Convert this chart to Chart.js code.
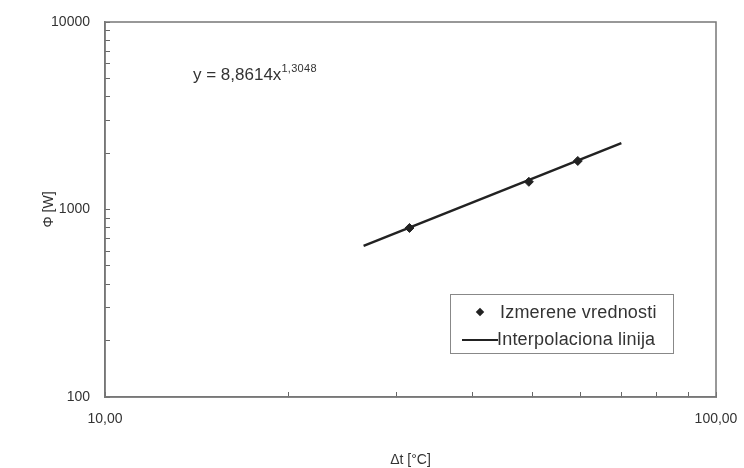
<!DOCTYPE html>
<html>
<head>
<meta charset="utf-8">
<script src="https://cdn.jsdelivr.net/npm/chart.js@4"></script>
<style>
  body { margin: 0; background: #fff; }
  #wrap { position: relative; width: 744px; height: 468px; }
  #c { display: block; }
  .eq { position: absolute; left: 193px; top: 63px; font: 17px "Liberation Sans", Arial, sans-serif; color: #333; white-space: nowrap; }
  .eq sup { font-size: 11px; position: relative; top: -1px; letter-spacing: 0.3px; }
  .legend { position: absolute; left: 450px; top: 294px; width: 222px; height: 58px; border: 1px solid #888; font: 18px "Liberation Sans", Arial, sans-serif; letter-spacing: 0.2px; color: #333; }
  .row { position: absolute; left: 0; height: 20px; line-height: 20px; white-space: nowrap; }
  .dia { position: absolute; left: 26px; top: 7px; width: 6px; height: 6px; background: #222; transform: rotate(45deg); }
  .ln { position: absolute; left: 11px; top: 10px; width: 36px; height: 2px; background: #222; }
</style>
</head>
<body>
<div id="wrap">
  <canvas id="c" width="744" height="468"></canvas>
  <div class="eq">y = 8,8614x<sup>1,3048</sup></div>
  <div class="legend">
    <div class="row" style="top:7px"><span class="dia"></span><span style="margin-left:49px">Izmerene vrednosti</span></div>
    <div class="row" style="top:34px"><span class="ln"></span><span style="margin-left:46px">Interpolaciona linija</span></div>
  </div>
</div>
<script>
// measured points (delta t, heat output)
const dt = [31.5, 49.4, 59.4];
const phi = [797, 1405, 1815];
// interpolation line endpoints
const lineX = [26.5, 70];
const lineY = [640, 2260];

// tick positions and labelled values
const xTicks = [10, 20, 30, 40, 50, 60, 70, 80, 90, 100];
const yTicks = [100, 200, 300, 400, 500, 600, 700, 800, 900,
                1000, 2000, 3000, 4000, 5000, 6000, 7000, 8000, 9000, 10000];
const xLabels = [10, 100];
const yLabels = [100, 1000, 10000];

const tickFont = { family: 'Liberation Sans, Arial, sans-serif', size: 14 };
const tickColor = '#333';

const boxPlugin = {
  id: 'box',
  afterDraw(chart) {
    const a = chart.chartArea;
    const ctx = chart.ctx;
    ctx.save();
    ctx.strokeStyle = '#777';
    ctx.lineWidth = 1.5;
    ctx.strokeRect(a.left, a.top, a.right - a.left, a.bottom - a.top);
    ctx.restore();
  }
};

new Chart(document.getElementById('c'), {
  type: 'scatter',
  data: {
    datasets: [
      {
        label: 'Izmerene vrednosti',
        data: dt.map((x, i) => ({ x: x, y: phi[i] })),
        pointStyle: 'rectRot',
        pointRadius: 4.5,
        backgroundColor: '#222',
        borderColor: '#222',
        order: 0
      },
      {
        label: 'Interpolaciona linija',
        data: lineX.map((x, i) => ({ x: x, y: lineY[i] })),
        showLine: true,
        pointRadius: 0,
        borderColor: '#222',
        borderWidth: 2.5,
        order: 1
      }
    ]
  },
  options: {
    responsive: false,
    animation: false,
    layout: { padding: { top: 22, right: 28, left: 0, bottom: 0 } },
    plugins: { legend: { display: false }, tooltip: { enabled: false } },
    scales: {
      x: {
        type: 'logarithmic',
        min: 10,
        max: 100,
        afterBuildTicks: s => { s.ticks = xTicks.map(v => ({ value: v })); },
        grid: { drawOnChartArea: false, tickLength: -5, color: '#666' },
        border: { color: '#777', width: 1.5 },
        ticks: {
          autoSkip: false,
          maxRotation: 0,
          padding: 19,
          font: tickFont,
          color: tickColor,
          callback: v => xLabels.includes(v) ? v.toFixed(2).replace('.', ',') : ''
        },
        title: { display: true, text: 'Δt [°C]', font: tickFont, color: tickColor, padding: { top: 0, bottom: -1 } },
        afterFit: s => { s.height = 71; s.paddingLeft = 0; s.paddingRight = 0; }
      },
      y: {
        type: 'logarithmic',
        min: 100,
        max: 10000,
        afterBuildTicks: s => { s.ticks = yTicks.map(v => ({ value: v })); },
        grid: { drawOnChartArea: false, tickLength: -5, color: '#666' },
        border: { color: '#777', width: 1.5 },
        ticks: {
          autoSkip: false,
          padding: 20,
          font: tickFont,
          color: tickColor,
          callback: v => yLabels.includes(v) ? String(v) : ''
        },
        title: { display: true, text: 'Φ [W]', font: tickFont, color: tickColor, padding: { top: 41, bottom: 0 } },
        afterFit: s => { s.width = 105; s.paddingTop = 0; s.paddingBottom = 0; }
      }
    }
  },
  plugins: [boxPlugin]
});
</script>
</body>
</html>
